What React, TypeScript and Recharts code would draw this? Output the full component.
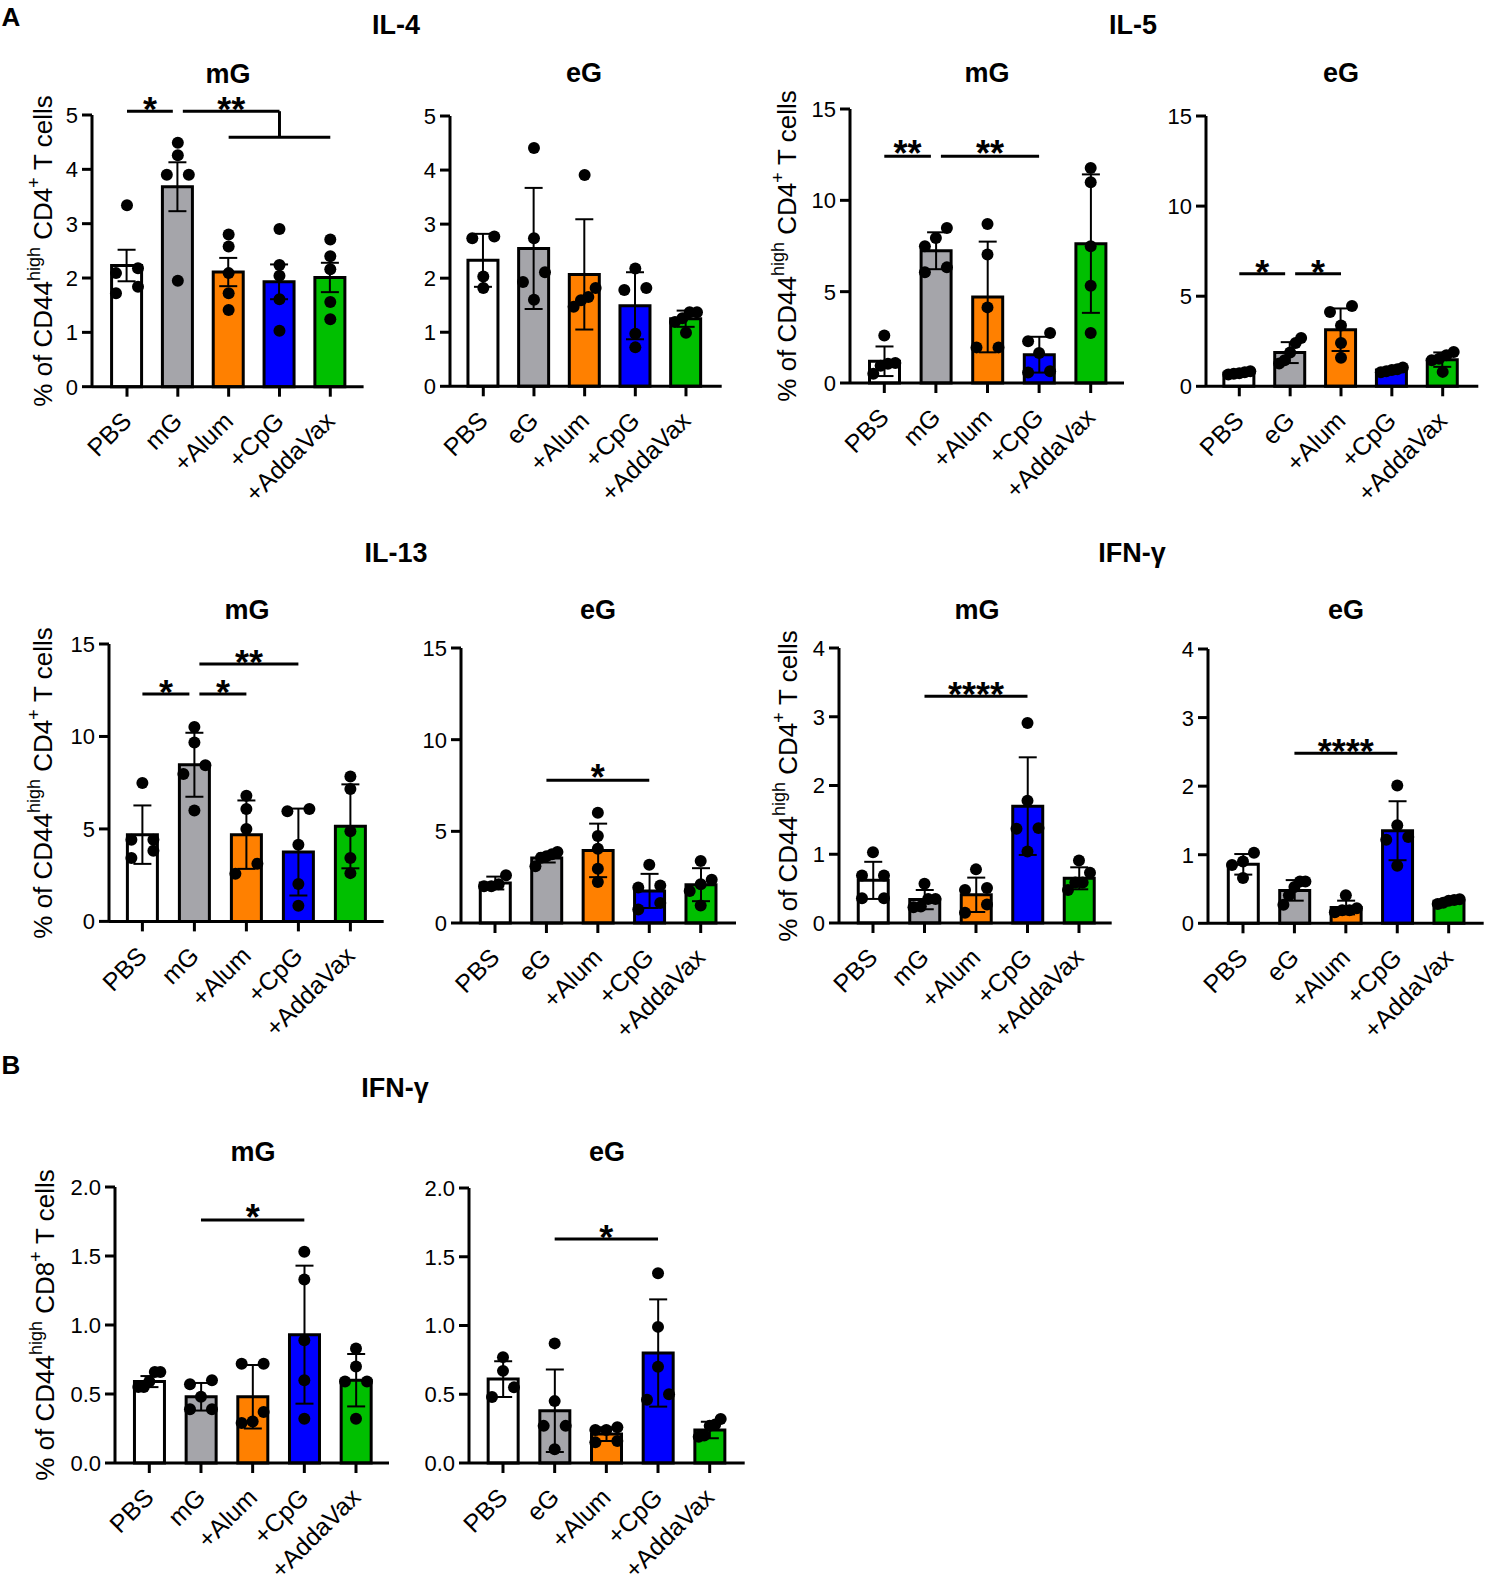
import React from 'react';
import { ComposedChart, Bar, Cell, ErrorBar, Line, XAxis, YAxis, ReferenceLine } from 'recharts';

const FONT = '"Liberation Sans", Arial, Helvetica, sans-serif';

// categories
const mGGroups = ['PBS', 'mG', '+Alum', '+CpG', '+AddaVax'];
const eGGroups = ['PBS', 'eG', '+Alum', '+CpG', '+AddaVax'];
const groupColors = ['#ffffff', '#a5a5aa', '#ff8000', '#0000ff', '#00bf00'];

// y ticks
const ticks5 = [0, 1, 2, 3, 4, 5];
const ticks15 = [0, 5, 10, 15];
const ticks4 = [0, 1, 2, 3, 4];
const ticks2 = [0, 0.5, 1, 1.5, 2];

// IL-4
const il4mGMean = [2.23, 3.68, 2.11, 1.93, 2.01];
const il4mGErr = [0.29, 0.45, 0.26, 0.32, 0.27];
const il4mGPoints = [
  [3.34, 2.18, 2.09, 1.84, 1.72],
  [4.49, 4.26, 3.9, 3.9, 1.95],
  [2.8, 2.58, 2.09, 1.72, 1.41],
  [2.9, 2.24, 2.04, 1.61, 1.03],
  [2.71, 2.4, 2.16, 1.56, 1.24],
];
const il4eGMean = [2.33, 2.55, 2.07, 1.49, 1.25];
const il4eGErr = [0.49, 1.12, 1.02, 0.62, 0.15];
const il4eGPoints = [
  [2.77, 2.74, 2.03, 1.82],
  [4.41, 2.74, 2.11, 1.93, 1.6],
  [3.91, 1.82, 1.65, 1.59, 1.47],
  [2.18, 1.82, 1.78, 0.97, 0.72],
  [1.37, 1.37, 1.26, 1.19, 0.99],
];

// IL-5
const il5mGMean = [1.19, 7.24, 4.71, 1.55, 7.63];
const il5mGErr = [0.81, 1.01, 3.03, 0.98, 3.79];
const il5mGPoints = [
  [2.6, 1.1, 1.05, 0.95, 0.5],
  [8.49, 7.94, 7.48, 6.33, 6.06],
  [8.7, 7.03, 4.14, 1.95, 1.95],
  [2.74, 2.28, 1.64, 0.64, 0.58],
  [11.77, 10.99, 7.48, 5.33, 2.74],
];
const il5eGMean = [0.74, 1.87, 3.14, 0.9, 1.48];
const il5eGErr = [0.1, 0.58, 1.18, 0.12, 0.4];
const il5eGPoints = [
  [0.84, 0.78, 0.72, 0.7, 0.66],
  [2.68, 2.4, 1.87, 1.44, 1.26],
  [4.46, 4.12, 3.38, 2.4, 1.59],
  [1.04, 0.95, 0.9, 0.84, 0.78],
  [1.9, 1.72, 1.53, 1.44, 0.8],
];

// IL-13
const il13mGMean = [4.69, 8.47, 4.69, 3.75, 5.14];
const il13mGErr = [1.58, 1.73, 1.85, 2.35, 2.27];
const il13mGPoints = [
  [7.48, 4.42, 4.42, 3.82, 3.43],
  [10.51, 9.68, 8.44, 7.97, 6.0],
  [6.8, 6.08, 4.99, 3.12, 2.58],
  [6.08, 5.95, 4.15, 2.02, 0.85],
  [7.84, 7.16, 4.87, 3.43, 2.61],
];
const il13eGMean = [2.18, 3.55, 3.96, 1.75, 2.09];
const il13eGErr = [0.35, 0.25, 1.46, 0.93, 0.9];
const il13eGPoints = [
  [2.6, 2.11, 2.0, 2.0],
  [3.87, 3.75, 3.64, 3.56, 3.09],
  [6.02, 4.75, 4.05, 2.96, 2.24],
  [3.18, 2.05, 1.93, 1.09, 0.73],
  [3.38, 2.36, 2.11, 1.75, 0.96],
];

// IFN-g, CD4
const ifnmGMean = [0.62, 0.34, 0.41, 1.7, 0.65];
const ifnmGErr = [0.27, 0.14, 0.25, 0.71, 0.16];
const ifnmGPoints = [
  [1.03, 0.69, 0.69, 0.36, 0.36],
  [0.57, 0.35, 0.35, 0.24, 0.23],
  [0.78, 0.51, 0.48, 0.27, 0.15],
  [2.91, 1.78, 1.38, 1.37, 1.04],
  [0.91, 0.73, 0.59, 0.59, 0.48],
];
const ifneGMean = [0.86, 0.48, 0.23, 1.35, 0.32];
const ifneGErr = [0.15, 0.15, 0.1, 0.43, 0.03];
const ifneGPoints = [
  [1.03, 0.9, 0.85, 0.66],
  [0.61, 0.61, 0.53, 0.41, 0.27],
  [0.41, 0.22, 0.19, 0.19, 0.16],
  [2.01, 1.43, 1.26, 1.22, 0.84],
  [0.35, 0.34, 0.33, 0.3, 0.28],
];

// IFN-g, CD8
const cd8mGMean = [0.59, 0.48, 0.48, 0.93, 0.6];
const cd8mGErr = [0.04, 0.1, 0.23, 0.5, 0.19];
const cd8mGPoints = [
  [0.66, 0.66, 0.59, 0.55, 0.55],
  [0.6, 0.57, 0.48, 0.39, 0.39],
  [0.72, 0.72, 0.37, 0.3, 0.29],
  [1.53, 1.33, 0.89, 0.6, 0.32],
  [0.83, 0.7, 0.59, 0.59, 0.32],
];
const cd8eGMean = [0.61, 0.38, 0.21, 0.8, 0.24];
const cd8eGErr = [0.13, 0.3, 0.05, 0.39, 0.06];
const cd8eGPoints = [
  [0.77, 0.67, 0.55, 0.48],
  [0.87, 0.45, 0.27, 0.27, 0.1],
  [0.26, 0.24, 0.24, 0.16, 0.15],
  [1.38, 0.99, 0.7, 0.5, 0.46],
  [0.32, 0.28, 0.27, 0.2, 0.19],
];

// significance bars
type Sig = { from: string; to: string; y: number; y2?: number; label?: string; trimStart?: boolean; trimEnd?: boolean };

const il4mGSig: Sig[] = [
  { from: 'PBS', to: 'mG', y: 5.07, label: '*', trimEnd: true },
  { from: 'mG', to: '+CpG', y: 5.07, label: '**', trimStart: true },
  { from: '+CpG', to: '+CpG', y: 5.07, y2: 4.59 },
  { from: '+Alum', to: '+AddaVax', y: 4.59 },
];
const il4eGSig: Sig[] = [];
const il5mGSig: Sig[] = [
  { from: 'PBS', to: 'mG', y: 12.41, label: '**', trimEnd: true },
  { from: 'mG', to: '+CpG', y: 12.41, label: '**', trimStart: true },
];
const il5eGSig: Sig[] = [
  { from: 'PBS', to: 'eG', y: 6.25, label: '*', trimEnd: true },
  { from: 'eG', to: '+Alum', y: 6.25, label: '*', trimStart: true },
];
const il13mGSig: Sig[] = [
  { from: 'PBS', to: 'mG', y: 12.29, label: '*', trimEnd: true },
  { from: 'mG', to: '+Alum', y: 12.29, label: '*', trimStart: true },
  { from: 'mG', to: '+CpG', y: 13.92, label: '**', trimStart: true },
];
const il13eGSig: Sig[] = [{ from: 'eG', to: '+CpG', y: 7.78, label: '*' }];
const ifnmGSig: Sig[] = [{ from: 'mG', to: '+CpG', y: 3.3, label: '****' }];
const ifneGSig: Sig[] = [{ from: 'eG', to: '+CpG', y: 2.48, label: '****' }];
const cd8mGSig: Sig[] = [{ from: 'mG', to: '+CpG', y: 1.76, label: '*' }];
const cd8eGSig: Sig[] = [{ from: 'eG', to: '+CpG', y: 1.63, label: '*' }];

const YW = 90;
const MT = 60;
const MR = 10;
const XH = 140;
const DOT_R = 6;
const SPREAD = 11;
const MIN_GAP = 10.5;

// spread points that would overlap, like a column scatter
function jitter(vals: number[], pxPerUnit: number): number[] {
  const idx = vals.map((_, i) => i).sort((a, b) => vals[b] - vals[a]);
  const out = vals.map(() => 0);
  let cluster: number[] = [];
  const flush = () => {
    const n = cluster.length;
    cluster.forEach((id, k) => {
      out[id] = n < 2 ? 0 : SPREAD - (2 * SPREAD * k) / (n - 1);
    });
    cluster = [];
  };
  idx.forEach((id, j) => {
    if (j > 0 && (vals[idx[j - 1]] - vals[id]) * pxPerUnit >= MIN_GAP) flush();
    cluster.push(id);
  });
  flush();
  return out;
}

const XTick = (props: any) => {
  const { x, y, payload } = props;
  const ax = x + 6;
  const ay = y + 24;
  return (
    <text x={ax} y={ay} transform={`rotate(-45 ${ax} ${ay})`} textAnchor="end" fontSize={25} fontFamily={FONT} fill="#000">
      {payload.value}
    </text>
  );
};

const YTick = (props: any) => {
  const { x, y, payload, decimals } = props;
  return (
    <text x={x} y={y} dy={8} textAnchor="end" fontSize={22} fontFamily={FONT} fill="#000">
      {Number(payload.value).toFixed(decimals)}
    </text>
  );
};

const sigShape = (s: Sig) => (props: any) => {
  const x1 = Number(props.x1) + (s.trimStart ? 5 : 0);
  const x2 = Number(props.x2) - (s.trimEnd ? 5 : 0);
  const y1 = Number(props.y1);
  const y2 = Number(props.y2);
  return (
    <g>
      <line x1={x1} y1={y1} x2={x2} y2={y2} stroke="#000" strokeWidth={3} />
      {s.label ? (
        <text x={(x1 + x2) / 2} y={y1 + 10} textAnchor="middle" fontSize={36} fontWeight="bold" fontFamily={FONT} fill="#000">
          {s.label}
        </text>
      ) : null}
    </g>
  );
};

type Box = { axisX: number; axisEnd: number; yTop: number; yBot: number; c0: number; c4: number };

function Panel({ box, groups, mean, err, points, ticks, decimals, sigs }: {
  box: Box; groups: string[]; mean: number[]; err: number[]; points: number[][]; ticks: number[]; decimals: number; sigs: Sig[];
}) {
  const { axisX, axisEnd, yTop, yBot, c0, c4 } = box;
  const plotW = axisEnd - axisX;
  const plotH = yBot - yTop;
  const yMax = ticks[ticks.length - 1];
  const pxPerUnit = plotH / yMax;
  const step = (c4 - c0) / 4;
  const padL = c0 - axisX - step / 2;
  const padR = axisEnd - c4 - step / 2;

  const rows = groups.map((name, i) => {
    const row: any = { name, mean: mean[i], err: err[i] };
    points[i].forEach((v, k) => (row[`p${k}`] = v));
    return row;
  });
  const offsets = points.map((p) => jitter(p, pxPerUnit));

  const renderDot = (k: number) => (props: any) => {
    const { cx, cy, index } = props;
    const v = points[index] ? points[index][k] : undefined;
    if (v == null || cy == null || cx == null) return <g key={`d${k}-${index}`} />;
    return <circle key={`d${k}-${index}`} cx={cx + offsets[index][k]} cy={cy} r={DOT_R} fill="#000" />;
  };

  return (
    <div style={{ position: 'absolute', left: axisX - YW, top: yTop - MT }}>
      <ComposedChart width={YW + plotW + MR} height={MT + plotH + XH} data={rows} margin={{ top: MT, right: MR, bottom: 0, left: 0 }}>
        <XAxis
          dataKey="name"
          type="category"
          height={XH}
          interval={0}
          padding={{ left: padL, right: padR }}
          axisLine={{ stroke: '#000', strokeWidth: 3 }}
          tickLine={{ stroke: '#000', strokeWidth: 3 }}
          tickSize={10}
          tick={<XTick />}
        />
        <YAxis
          type="number"
          width={YW}
          domain={[0, yMax]}
          ticks={ticks}
          interval={0}
          axisLine={{ stroke: '#000', strokeWidth: 3 }}
          tickLine={{ stroke: '#000', strokeWidth: 3 }}
          tickSize={10}
          tickMargin={4}
          tick={<YTick decimals={decimals} />}
        />
        <Bar dataKey="mean" barSize={30} stroke="#000" strokeWidth={3} isAnimationActive={false}>
          {rows.map((_, i) => (
            <Cell key={i} fill={groupColors[i]} />
          ))}
          <ErrorBar dataKey="err" width={9} stroke="#000" strokeWidth={2} />
        </Bar>
        {[0, 1, 2, 3, 4].map((k) => (
          <Line
            key={k}
            dataKey={`p${k}`}
            stroke="none"
            dot={renderDot(k)}
            activeDot={false}
            legendType="none"
            isAnimationActive={false}
          />
        ))}
        {sigs.map((s, i) => (
          <ReferenceLine
            key={i}
            segment={[{ x: s.from, y: s.y }, { x: s.to, y: s.y2 ?? s.y }]}
            ifOverflow="visible"
            shape={sigShape(s)}
          />
        ))}
      </ComposedChart>
    </div>
  );
}

const Title = ({ x, y, size, children }: { x: number; y: number; size: number; children: React.ReactNode }) => (
  <div
    style={{
      position: 'absolute',
      left: x,
      top: y,
      transform: 'translate(-50%, -50%)',
      fontSize: size,
      fontWeight: 700,
      lineHeight: 1,
      whiteSpace: 'nowrap',
    }}
  >
    {children}
  </div>
);

const YLabel = ({ x, y, cell }: { x: number; y: number; cell: string }) => (
  <svg style={{ position: 'absolute', left: x - 25, top: y - 200 }} width={50} height={400}>
    <text
      x={25}
      y={200}
      transform="rotate(-90 25 200)"
      textAnchor="middle"
      dominantBaseline="central"
      fontSize={26}
      fontFamily={FONT}
      fill="#000"
    >
      % of CD44
      <tspan dy={-9} fontSize={18}>high</tspan>
      <tspan dy={9}>{'\u00A0' + cell}</tspan>
      <tspan dy={-9} fontSize={18}>+</tspan>
      <tspan dy={9}>{'\u00A0T cells'}</tspan>
    </text>
  </svg>
);

const boxes: Record<string, Box> = {
  il4mG: { axisX: 91.7, axisEnd: 363.3, yTop: 115, yBot: 386.7, c0: 126.7, c4: 330 },
  il4eG: { axisX: 450, axisEnd: 721.7, yTop: 115.7, yBot: 386, c0: 483.3, c4: 686 },
  il5mG: { axisX: 850, axisEnd: 1124, yTop: 109.3, yBot: 383.3, c0: 884.3, c4: 1090.7 },
  il5eG: { axisX: 1206, axisEnd: 1478.3, yTop: 115.7, yBot: 386, c0: 1239.3, c4: 1442.7 },
  il13mG: { axisX: 109.3, axisEnd: 384, yTop: 644.3, yBot: 921.7, c0: 142.7, c4: 350.7 },
  il13eG: { axisX: 461, axisEnd: 736, yTop: 647.7, yBot: 922.7, c0: 495, c4: 700.7 },
  ifnmG: { axisX: 839.3, axisEnd: 1112, yTop: 648.3, yBot: 923.3, c0: 873.3, c4: 1079.3 },
  ifneG: { axisX: 1208.3, axisEnd: 1484, yTop: 649, yBot: 923.3, c0: 1243.3, c4: 1449 },
  cd8mG: { axisX: 115, axisEnd: 389, yTop: 1187.3, yBot: 1463.3, c0: 149.3, c4: 356 },
  cd8eG: { axisX: 469.3, axisEnd: 745, yTop: 1187.7, yBot: 1462.7, c0: 503.3, c4: 710 },
};

export default function App() {
  return (
    <div
      style={{
        position: 'absolute',
        left: 0,
        top: 0,
        width: 1490,
        height: 1583,
        overflow: 'hidden',
        background: '#fff',
        fontFamily: FONT,
        color: '#000',
      }}
    >
      <Title x={11} y={17} size={26}>A</Title>
      <Title x={396} y={25} size={27}>IL-4</Title>
      <Title x={1133} y={25} size={27}>IL-5</Title>
      <Title x={396} y={553} size={27}>IL-13</Title>
      <Title x={1132} y={553} size={27}>IFN-γ</Title>
      <Title x={11} y={1065} size={26}>B</Title>
      <Title x={395} y={1088} size={27}>IFN-γ</Title>

      <Title x={228} y={74} size={27}>mG</Title>
      <Title x={584} y={73} size={27}>eG</Title>
      <Title x={987} y={73} size={27}>mG</Title>
      <Title x={1341} y={73} size={27}>eG</Title>
      <Title x={247} y={610} size={27}>mG</Title>
      <Title x={598} y={610} size={27}>eG</Title>
      <Title x={977} y={610} size={27}>mG</Title>
      <Title x={1346} y={610} size={27}>eG</Title>
      <Title x={253} y={1152} size={27}>mG</Title>
      <Title x={607} y={1152} size={27}>eG</Title>

      <YLabel x={43} y={251} cell="CD4" />
      <YLabel x={787} y={246} cell="CD4" />
      <YLabel x={43} y={783} cell="CD4" />
      <YLabel x={788} y={786} cell="CD4" />
      <YLabel x={45} y={1325} cell="CD8" />

      <Panel box={boxes.il4mG} groups={mGGroups} mean={il4mGMean} err={il4mGErr} points={il4mGPoints} ticks={ticks5} decimals={0} sigs={il4mGSig} />
      <Panel box={boxes.il4eG} groups={eGGroups} mean={il4eGMean} err={il4eGErr} points={il4eGPoints} ticks={ticks5} decimals={0} sigs={il4eGSig} />
      <Panel box={boxes.il5mG} groups={mGGroups} mean={il5mGMean} err={il5mGErr} points={il5mGPoints} ticks={ticks15} decimals={0} sigs={il5mGSig} />
      <Panel box={boxes.il5eG} groups={eGGroups} mean={il5eGMean} err={il5eGErr} points={il5eGPoints} ticks={ticks15} decimals={0} sigs={il5eGSig} />
      <Panel box={boxes.il13mG} groups={mGGroups} mean={il13mGMean} err={il13mGErr} points={il13mGPoints} ticks={ticks15} decimals={0} sigs={il13mGSig} />
      <Panel box={boxes.il13eG} groups={eGGroups} mean={il13eGMean} err={il13eGErr} points={il13eGPoints} ticks={ticks15} decimals={0} sigs={il13eGSig} />
      <Panel box={boxes.ifnmG} groups={mGGroups} mean={ifnmGMean} err={ifnmGErr} points={ifnmGPoints} ticks={ticks4} decimals={0} sigs={ifnmGSig} />
      <Panel box={boxes.ifneG} groups={eGGroups} mean={ifneGMean} err={ifneGErr} points={ifneGPoints} ticks={ticks4} decimals={0} sigs={ifneGSig} />
      <Panel box={boxes.cd8mG} groups={mGGroups} mean={cd8mGMean} err={cd8mGErr} points={cd8mGPoints} ticks={ticks2} decimals={1} sigs={cd8mGSig} />
      <Panel box={boxes.cd8eG} groups={eGGroups} mean={cd8eGMean} err={cd8eGErr} points={cd8eGPoints} ticks={ticks2} decimals={1} sigs={cd8eGSig} />
    </div>
  );
}
